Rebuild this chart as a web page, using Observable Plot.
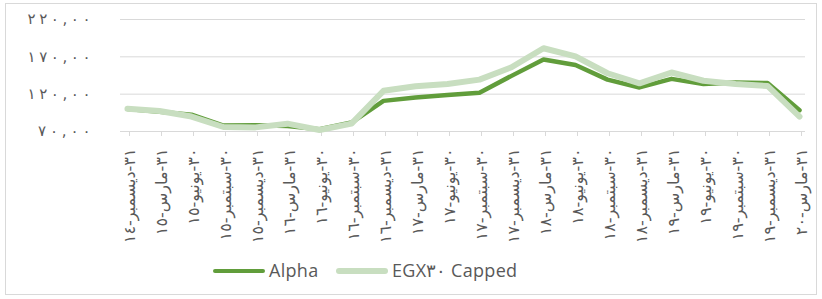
<!DOCTYPE html>
<html>
<head>
<meta charset="utf-8">
<script src="https://cdn.jsdelivr.net/npm/d3@7"></script>
<script src="https://cdn.jsdelivr.net/npm/@observablehq/plot@0.6"></script>
<style>
  html, body { margin: 0; padding: 0; background: #fff; }
  #wrap { position: relative; width: 822px; height: 299px; overflow: hidden; }
  #frame { position: absolute; left: 5px; top: 3px; width: 812px; height: 292px; border: 1px solid #d9d9d9; box-sizing: border-box; }
  #chart { position: absolute; left: 0; top: 0; }
  .leg { position: absolute; font-family: "Open Sans", sans-serif; font-size: 18px; letter-spacing: 0.3px; color: #595959; line-height: 1; white-space: nowrap; }
  .sw { position: absolute; border-radius: 3px; }
</style>
</head>
<body>
<div id="wrap">
  <div id="frame"></div>
  <div id="chart"></div>
  <div class="sw" style="left:213px; top:269px; width:52px; height:4px; background:#619d3b;"></div>
  <div class="leg" style="left:269px; top:261px;">Alpha</div>
  <div class="sw" style="left:336px; top:268px; width:52px; height:6px; background:#c8dec0;"></div>
  <div class="leg" style="left:392px; top:261px;">EGX٣٠ Capped</div>
</div>
<script>
const categories = ["٣١-ديسمبر-١٤","٣١-مارس-١٥","٣٠-يونيو-١٥","٣٠-سبتمبر-١٥","٣١-ديسمبر-١٥","٣١-مارس-١٦","٣٠-يونيو-١٦","٣٠-سبتمبر-١٦","٣١-ديسمبر-١٦","٣١-مارس-١٧","٣٠-يونيو-١٧","٣٠-سبتمبر-١٧","٣١-ديسمبر-١٧","٣١-مارس-١٨","٣٠-يونيو-١٨","٣٠-سبتمبر-١٨","٣١-ديسمبر-١٨","٣١-مارس-١٩","٣٠-يونيو-١٩","٣٠-سبتمبر-١٩","٣١-ديسمبر-١٩","٣١-مارس-٢٠"];
const alpha = [100, 96.5, 92.5, 78, 78.5, 77.5, 73, 82, 111, 115.5, 119, 122, 144.5, 166.5, 159, 139.5, 129, 140.5, 133.5, 135.5, 135, 98.5];
const egx30 = [100.5, 97.5, 90, 76, 75.5, 80.5, 72, 80.5, 124.5, 130.5, 133.5, 139.5, 156, 181.5, 170.5, 148, 134.5, 149, 138, 133.5, 131, 90];
const yTicks = [70, 120, 170, 220];
const yTickLabels = ["٧٠,٠٠", "١٢٠,٠٠", "١٧٠,٠٠", "٢٢٠,٠٠"];
const seriesNames = ["Alpha", "EGX٣٠ Capped"];

const alphaData = categories.map((c, i) => ({cat: c, v: alpha[i]}));
const egxData = categories.map((c, i) => ({cat: c, v: egx30[i]}));

const chart = Plot.plot({
  width: 822,
  height: 255,
  marginLeft: 120,
  marginRight: 17,
  marginTop: 19,
  marginBottom: 124,
  style: {fontFamily: "'DejaVu Sans', sans-serif", color: "#595959", background: "transparent", overflow: "visible"},
  x: {type: "point", domain: categories, padding: 0},
  y: {domain: [70, 220]},
  marks: [
    Plot.gridY(yTicks.slice(1), {stroke: "#d9d9d9", strokeOpacity: 1, strokeWidth: 1}),
    Plot.ruleY([70], {stroke: "#d9d9d9", strokeWidth: 1}),
    Plot.axisY(yTicks, {tickSize: 0, tickPadding: 30, tickFormat: (d) => yTickLabels[yTicks.indexOf(d)], fontSize: 15, label: null}),
    Plot.axisX({tickRotate: -90, tickSize: 5, tickPadding: 12, stroke: "#d9d9d9", fontSize: 16, label: null, dx: 2}),
    Plot.line(alphaData, {x: "cat", y: "v", stroke: "#619d3b", strokeWidth: 4.5, strokeLinejoin: "round", strokeLinecap: "round"}),
    Plot.line(egxData, {x: "cat", y: "v", stroke: "#c8dec0", strokeWidth: 6, strokeLinejoin: "round", strokeLinecap: "round"})
  ]
});
d3.select(chart).selectAll('g[aria-label="y-axis tick label"] text').each(function() {
  const n = this.textContent.length;
  this.setAttribute("textLength", n * 10.5);
  this.setAttribute("lengthAdjust", "spacing");
});
document.getElementById("chart").appendChild(chart);
</script>
</body>
</html>
